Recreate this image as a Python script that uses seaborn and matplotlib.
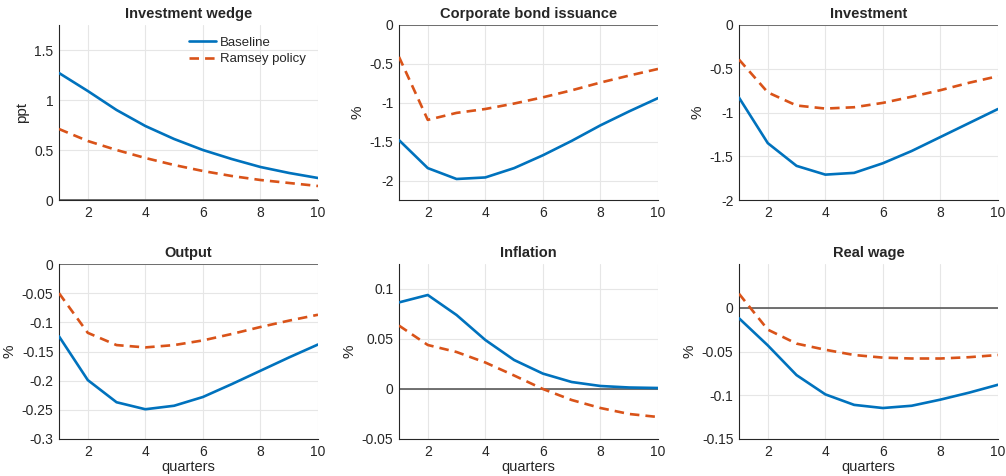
import numpy as np
import pandas as pd
import seaborn as sns
import matplotlib.pyplot as plt

# data
quarters = list(range(1, 11))

wedge_base = [1.27, 1.09, 0.90, 0.74, 0.61, 0.50, 0.41, 0.33, 0.27, 0.22]
wedge_ramsey = [0.71, 0.59, 0.50, 0.42, 0.35, 0.29, 0.24, 0.20, 0.17, 0.14]

bond_base = [-1.48, -1.84, -1.98, -1.96, -1.84, -1.675, -1.49, -1.29, -1.11, -0.94]
bond_ramsey = [-0.41, -1.22, -1.13, -1.08, -1.01, -0.93, -0.84, -0.74, -0.65, -0.565]

inv_base = [-0.83, -1.35, -1.61, -1.71, -1.69, -1.58, -1.44, -1.28, -1.12, -0.96]
inv_ramsey = [-0.395, -0.77, -0.92, -0.955, -0.94, -0.89, -0.82, -0.745, -0.66, -0.585]

out_base = [-0.124, -0.199, -0.237, -0.249, -0.243, -0.228, -0.206, -0.183, -0.160, -0.138]
out_ramsey = [-0.050, -0.118, -0.139, -0.143, -0.139, -0.131, -0.120, -0.108, -0.097, -0.087]

infl_base = [0.0866, 0.094, 0.074, 0.049, 0.029, 0.0154, 0.007, 0.003, 0.0015, 0.001]
infl_ramsey = [0.0634, 0.044, 0.037, 0.0265, 0.0135, 0.0, -0.011, -0.019, -0.025, -0.028]

wage_base = [-0.012, -0.043, -0.077, -0.099, -0.111, -0.1146, -0.112, -0.105, -0.097, -0.088]
wage_ramsey = [0.016, -0.025, -0.041, -0.048, -0.054, -0.057, -0.058, -0.058, -0.0565, -0.054]

titles = ['Investment wedge', 'Corporate bond issuance', 'Investment',
          'Output', 'Inflation', 'Real wage']
ylabels = ['ppt', '%', '%', '%', '%', '%']
series = [(wedge_base, wedge_ramsey), (bond_base, bond_ramsey), (inv_base, inv_ramsey),
          (out_base, out_ramsey), (infl_base, infl_ramsey), (wage_base, wage_ramsey)]
ylims = [(0, 1.75), (-2.25, 0), (-2, 0), (-0.3, 0), (-0.05, 0.125), (-0.15, 0.05)]
yticks = [[0, 0.5, 1, 1.5], [-2, -1.5, -1, -0.5, 0], [-2, -1.5, -1, -0.5, 0],
          [-0.3, -0.25, -0.2, -0.15, -0.1, -0.05, 0], [-0.05, 0, 0.05, 0.1],
          [-0.15, -0.1, -0.05, 0]]
yticklabels = [['0', '0.5', '1', '1.5'], ['-2', '-1.5', '-1', '-0.5', '0'],
               ['-2', '-1.5', '-1', '-0.5', '0'],
               ['-0.3', '-0.25', '-0.2', '-0.15', '-0.1', '-0.05', '0'],
               ['-0.05', '0', '0.05', '0.1'], ['-0.15', '-0.1', '-0.05', '0']]

sns.set_style('white')
plt.rcParams['font.family'] = ['Liberation Sans', 'DejaVu Sans']

fig = plt.figure(figsize=(10.06, 4.76), dpi=100)
W, H = 1006, 476
lefts = [59, 399, 739]
tops = [25, 264]
aw, ah = 259, 175

palette = {'Baseline': '#0072BD', 'Ramsey policy': '#D95319'}
dashes = {'Baseline': '', 'Ramsey policy': (3.6, 2.3)}

for i in range(6):
    r, c = divmod(i, 3)
    ax = fig.add_axes([lefts[c] / W, 1 - (tops[r] + ah) / H, aw / W, ah / H])
    base, ram = series[i]
    df = pd.DataFrame({
        'quarter': quarters * 2,
        'value': base + ram,
        'policy': ['Baseline'] * len(base) + ['Ramsey policy'] * len(ram),
    })
    ax.grid(True, color='#e6e6e6', linewidth=0.8)
    ax.set_axisbelow(True)
    ax.axhline(0, color='#595959', linewidth=1.2, zorder=1)
    sns.lineplot(data=df, x='quarter', y='value', hue='policy', style='policy',
                 palette=palette, dashes=dashes, linewidth=1.9, ax=ax,
                 legend=(i == 0), zorder=3)
    ax.set_xlim(1, 10)
    ax.set_ylim(*ylims[i])
    ax.set_xticks([2, 4, 6, 8, 10])
    ax.set_yticks(yticks[i])
    ax.set_yticklabels(yticklabels[i])
    ax.tick_params(labelsize=10, colors='#262626', length=0, pad=4)
    ax.set_title(titles[i], fontsize=10.5, fontweight='bold', pad=5)
    ax.set_ylabel(ylabels[i], fontsize=11, color='#262626')
    if r == 1:
        ax.set_xlabel('quarters', fontsize=10.5, color='#262626', labelpad=1)
    else:
        ax.set_xlabel('')
    for s in ['top', 'right']:
        ax.spines[s].set_visible(False)
    for s in ['left', 'bottom']:
        ax.spines[s].set_color('#262626')
        ax.spines[s].set_linewidth(0.8)
    if i == 0:
        leg = ax.legend(loc='upper right', frameon=False, fontsize=9.5,
                        handlelength=2.1, handletextpad=0.3, labelspacing=0.3,
                        bbox_to_anchor=(1.0, 1.0))
        leg.set_title(None)

fig.savefig('out.png', dpi=100)
